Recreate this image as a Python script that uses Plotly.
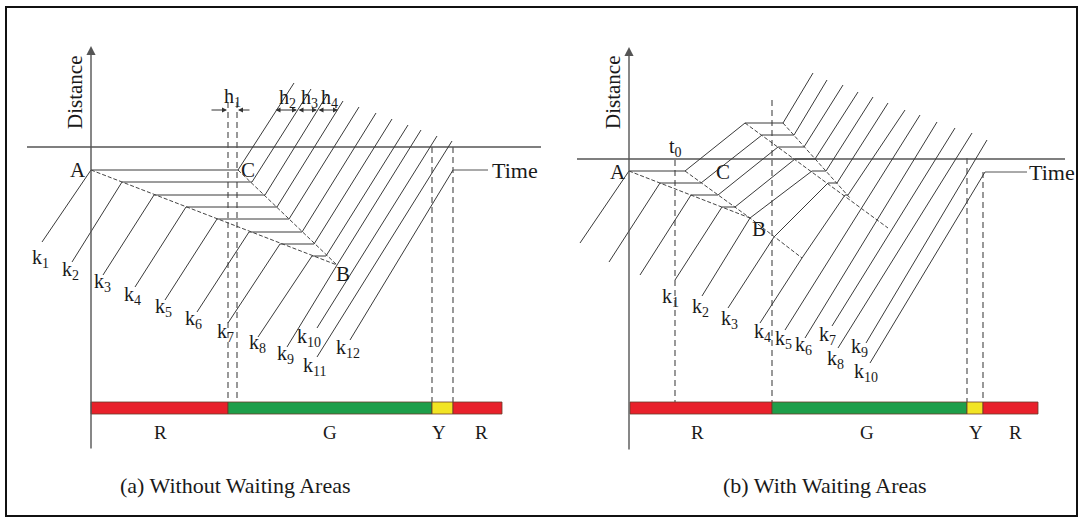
import plotly.graph_objects as go

# ---------------- Panel (a): Without Waiting Areas ----------------
# time t (to the right), distance d (upwards); origin = vertical axis / time axis crossing
A_PHASE_NAMES = ["R", "G", "Y", "R"]
A_PHASE_START = [0, 137, 341, 362]
A_PHASE_END = [137, 341, 362, 411]
A_PHASE_LABEL_T = [69, 239, 348, 390]

A_VEH_NAMES = ["k1", "k2", "k3", "k4", "k5", "k6", "k7", "k8", "k9", "k10", "k11", "k12"]
A_TRAJ_T = [
    [-49, 0, 147, 203], [-19, 31, 161, 220], [12, 63, 174, 236], [44, 95, 186, 252],
    [74, 126, 198, 268], [106, 158, 211, 285], [137, 189, 223, 301], [167, 221, 235, 317],
    [196, 246, 330], [226, 346], [226, 361], [259, 362],
]
A_TRAJ_D = [
    [-95, -23, -23, 64], [-115, -35, -35, 58], [-128, -48, -48, 52], [-140, -60, -60, 46],
    [-153, -72, -72, 40], [-165, -85, -85, 34], [-176, -97, -97, 28], [-190, -109, -109, 22],
    [-200, -118, 17], [-181, 11], [-210, 6], [-193, -23],
]
A_LABEL_T = [-51, -21, 11, 41, 72, 102, 134, 166, 194, 218, 223, 257]
A_LABEL_D = [-111, -123, -135, -148, -160, -172, -185, -196, -207, -190, -219, -201]
A_WAVE_AB_T, A_WAVE_AB_D = [0, 246], [-23, -118]
A_WAVE_CB_T, A_WAVE_CB_D = [147, 246], [-23, -118]
A_VDASH_T = [137, 146, 341, 362]
A_VDASH_TOP = [45, 45, 0, 0]
A_POINTS = ["A", "C", "B"]
A_POINT_T = [-13, 157, 252]
A_POINT_D = [-23, -23, -127]
A_HEADWAY_NAMES = ["h2", "h3", "h4"]
A_HEADWAY_T0 = [183, 206, 226]
A_HEADWAY_T1 = [206, 226, 247]

# ---------------- Panel (b): With Waiting Areas ----------------
B_PHASE_NAMES = ["R", "G", "Y", "R"]
B_PHASE_START = [1, 143, 338, 354]
B_PHASE_END = [143, 338, 354, 409]
B_PHASE_LABEL_T = [68, 238, 347, 386]

B_TRAJ_T = [
    [-49, 0, 56, 116, 154, 184], [-20, 31, 72, 133, 165, 198], [11, 62, 89, 149, 175, 214],
    [46, 93, 106, 166, 186, 229], [73, 121, 183, 197, 244], [99, 145, 199, 208, 259],
    [131, 173, 216, 219, 276], [156, 291], [176, 308], [203, 326], [209, 343],
    [237, 358], [241, 356],
]
B_TRAJ_D = [
    [-84, -12, -12, 36, 36, 86], [-103, -24, -24, 24, 24, 79], [-116, -36, -36, 12, 12, 74],
    [-121, -48, -48, 0, 0, 67], [-137, -59, -12, -12, 62], [-149, -78, -24, -24, 56],
    [-164, -99, -36, -36, 49], [-171, 44], [-179, 37], [-167, 31], [-189, 26],
    [-184, 19], [-204, -13],
]
B_LABEL_NAMES = ["k1", "k2", "k3", "k4", "k5", "k6", "k7", "k8", "k9", "k10"]
B_LABEL_T = [41, 71, 100, 133, 154, 174, 198, 206, 230, 237]
B_LABEL_D = [-138, -148, -160, -173, -180, -186, -176, -200, -188, -213]
B_WAVE_LOW_AB_T, B_WAVE_LOW_AB_D = [0, 121], [-12, -59]
B_WAVE_LOW_CB_T, B_WAVE_LOW_CB_D = [56, 121, 173], [-12, -59, -99]
B_WAVE_UP_A_T, B_WAVE_UP_A_D = [116, 259], [36, -69]
B_WAVE_UP_D_T, B_WAVE_UP_D_D = [154, 221], [36, -39]
B_VDASH_T = [46, 143, 338, 354]
B_VDASH_TOP = [-1, 59, 1, -13]
B_POINTS = ["A", "C", "B"]
B_POINT_T = [-11, 94, 130]
B_POINT_D = [-13, -13, -70]

SIG_COLORS = {"R": "#e8202a", "G": "#1e9e4a", "Y": "#f2e424"}
FONT = "Liberation Serif"
LINE = "#3a3a3a"

fig = go.Figure()
W, H = 1083, 523
SPLIT = 541


def add_line(t, d, ax, dash=None, color=LINE, width=1):
    fig.add_trace(go.Scatter(x=t, y=d, mode="lines", xaxis=ax[0], yaxis=ax[1],
                             line=dict(color=color, width=width, dash=dash),
                             hoverinfo="skip", showlegend=False))


def txt(t, d, s, ax, size=20, **kw):
    fig.add_annotation(x=t, y=d, xref=ax[0], yref=ax[1], text=s, showarrow=False,
                       font=dict(family=FONT, size=size, color="#1a1a1a"), **kw)


def ksub(name):
    return "k<sub>" + name[1:] + "</sub>"


def hsub(name):
    return "h<sub>" + name[1:] + "</sub>"


def draw_panel(ax, traj_t, traj_d, waves, vdash_t, vdash_top, bar_d, phases,
               label_names, label_t, label_d, points, pt_t, pt_d, axis_ext, time_lbl,
               caption, cap_pos, distance_pos, phase_lbl_t, phase_lbl_d, leader):
    # time axis
    add_line([axis_ext[0], axis_ext[1]], [0, 0], ax, color="#555", width=1.3)
    # distance axis with arrow
    fig.add_annotation(x=0, y=axis_ext[3], ax=0, ay=axis_ext[2], xref=ax[0], yref=ax[1],
                       axref=ax[0], ayref=ax[1], showarrow=True, arrowhead=2, arrowsize=1.3,
                       arrowwidth=1.4, arrowcolor="#555", text="")
    # signal dashed lines
    for t, top in zip(vdash_t, vdash_top):
        add_line([t, t], [top, bar_d[0]], ax, dash="6px,4px", color="#555", width=1.2)
    # trajectories
    for t, d in zip(traj_t, traj_d):
        add_line(t, d, ax)
    # shock waves
    for t, d in waves:
        add_line(t, d, ax, dash="4px,2px", color="#444", width=1)
    # leader to Time label
    add_line(leader[0], leader[1], ax, color="#555", width=1)
    # signal bar
    for name, s, e in phases:
        fig.add_shape(type="rect", xref=ax[0], yref=ax[1], x0=s, x1=e, y0=bar_d[1], y1=bar_d[0],
                      fillcolor=SIG_COLORS[name], line=dict(color="#6a3a2a", width=0.8), layer="above")
    for (name, _, _), lt in zip(phases, phase_lbl_t):
        txt(lt, phase_lbl_d, name, ax, size=19)
    for n, t, d in zip(label_names, label_t, label_d):
        txt(t, d, ksub(n), ax, size=20)
    for n, t, d in zip(points, pt_t, pt_d):
        txt(t, d, n, ax, size=21)
    txt(time_lbl[0], time_lbl[1], "Time", ax, size=22)
    txt(distance_pos[0], distance_pos[1], "Distance", ax, size=21, textangle=-90)
    txt(cap_pos[0], cap_pos[1], caption, ax, size=22)


axA = ("x", "y")
axB = ("x2", "y2")

draw_panel(axA, A_TRAJ_T, A_TRAJ_D,
           [(A_WAVE_AB_T, A_WAVE_AB_D), (A_WAVE_CB_T, A_WAVE_CB_D)],
           A_VDASH_T, A_VDASH_TOP, (-255, -267),
           list(zip(A_PHASE_NAMES, A_PHASE_START, A_PHASE_END)),
           A_VEH_NAMES, A_LABEL_T, A_LABEL_D, A_POINTS, A_POINT_T, A_POINT_D,
           (-64, 457, -303, 101), (424, -23), "(a) Without Waiting Areas", (144, -338),
           (-16, 54), A_PHASE_LABEL_T, -285, ([362, 397], [-23, -23]))

draw_panel(axB, B_TRAJ_T, B_TRAJ_D,
           [(B_WAVE_LOW_AB_T, B_WAVE_LOW_AB_D), (B_WAVE_LOW_CB_T, B_WAVE_LOW_CB_D),
            (B_WAVE_UP_A_T, B_WAVE_UP_A_D), (B_WAVE_UP_D_T, B_WAVE_UP_D_D)],
           B_VDASH_T, B_VDASH_TOP, (-243, -255),
           list(zip(B_PHASE_NAMES, B_PHASE_START, B_PHASE_END)),
           B_LABEL_NAMES, B_LABEL_T, B_LABEL_D, B_POINTS, B_POINT_T, B_POINT_D,
           (-52, 436, -292, 112), (423, -13), "(b) With Waiting Areas", (196, -326),
           (-16, 66), B_PHASE_LABEL_T, -273, ([356, 398], [-13, -13]))

# headway annotations in panel (a)
fig.add_annotation(x=136, y=37, ax=119, ay=37, xref="x", yref="y", axref="x", ayref="y",
                   showarrow=True, arrowhead=2, arrowsize=1, arrowwidth=1, arrowcolor="#333", text="")
fig.add_annotation(x=147, y=37, ax=160, ay=37, xref="x", yref="y", axref="x", ayref="y",
                   showarrow=True, arrowhead=2, arrowsize=1, arrowwidth=1, arrowcolor="#333", text="")
txt(141, 50, hsub("h1"), axA, size=20)
for n, t0, t1 in zip(A_HEADWAY_NAMES, A_HEADWAY_T0, A_HEADWAY_T1):
    fig.add_annotation(x=t1, y=37, ax=t0, ay=37, xref="x", yref="y", axref="x", ayref="y",
                       showarrow=True, arrowhead=2, arrowside="end+start", arrowsize=1,
                       arrowwidth=1, arrowcolor="#333", text="")
    txt((t0 + t1) / 2 + 2, 49, hsub(n), axA, size=20)

# t0 in panel (b)
txt(46, 12, "t<sub>0</sub>", axB, size=20)

# outer frame
fig.add_shape(type="rect", xref="paper", yref="paper", x0=6 / W, x1=1077 / W,
              y0=1 - 516 / H, y1=1 - 7 / H, line=dict(color="#111", width=2))

ax_common = dict(visible=False, showgrid=False, zeroline=False, fixedrange=True)
fig.update_layout(
    width=W, height=H, margin=dict(l=0, r=0, t=0, b=0),
    paper_bgcolor="white", plot_bgcolor="white",
    xaxis=dict(domain=[0, SPLIT / W], range=[-91, SPLIT - 91], **ax_common),
    yaxis=dict(domain=[0, 1], range=[147 - H, 147], **ax_common),
    xaxis2=dict(domain=[SPLIT / W, 1], range=[SPLIT - 629, W - 629], **ax_common),
    yaxis2=dict(domain=[0, 1], range=[159 - H, 159], **ax_common),
    showlegend=False,
)

fig.write_html("out.html", config={"displayModeBar": False},
               post_script="document.body.style.margin='0';document.body.style.overflow='hidden';")
